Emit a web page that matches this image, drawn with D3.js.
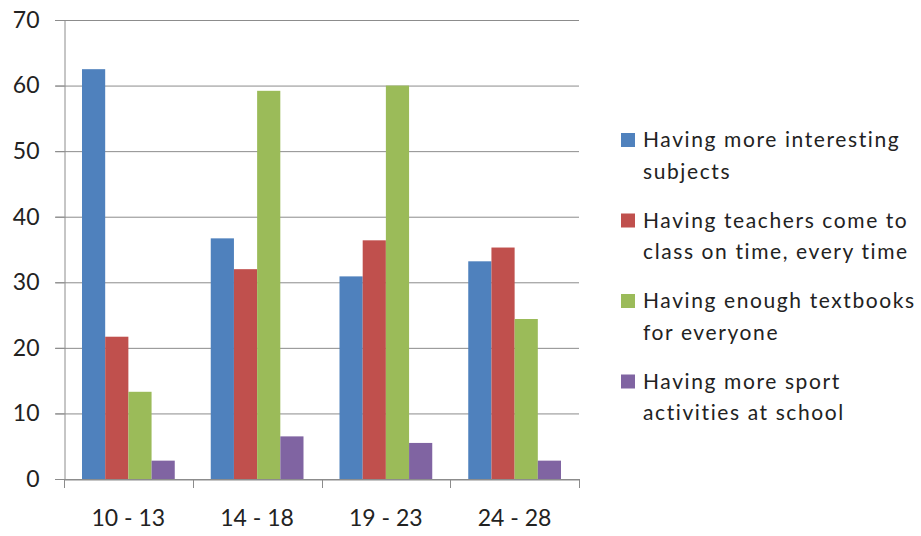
<!DOCTYPE html>
<html><head><meta charset="utf-8">
<script src="https://cdn.jsdelivr.net/npm/d3@7"></script>
<style>body{margin:0;background:#fff}svg{display:block}</style>
</head><body>
<svg id="chart" width="921" height="536"></svg>
<script>
const categories = ["10 - 13", "14 - 18", "19 - 23", "24 - 28"];
const seriesNames = [
  ["Having more interesting", "subjects"],
  ["Having teachers come to", "class on time, every time"],
  ["Having enough textbooks", "for everyone"],
  ["Having more sport", "activities at school"]
];
const seriesColors = ["#4F81BD", "#C0504D", "#9BBB59", "#8064A2"];
const interesting = [62.5, 36.7, 30.9, 33.2];
const teachers = [21.7, 32.0, 36.4, 35.3];
const textbooks = [13.3, 59.2, 60.0, 24.4];
const sport = [2.8, 6.5, 5.5, 2.8];
const yTicks = [0, 10, 20, 30, 40, 50, 60, 70];

(function () {
const series = [interesting, teachers, textbooks, sport];
const svg = d3.select("#chart");
const font = "Lato, 'Open Sans', sans-serif";
const pLeft = 64, pRight = 579, pTop = 20, pBottom = 479;

const x = d3.scaleBand().domain(categories).range([pLeft, pRight]).paddingInner(0).paddingOuter(0);
const inner = d3.scaleBand().domain(d3.range(series.length)).range([18, x.bandwidth() - 18]);
const y = d3.scaleLinear().domain([0, 70]).range([pBottom, pTop]);

// gridlines
svg.append("g").selectAll("line").data(yTicks).join("line")
  .attr("x1", pLeft - 9).attr("x2", pRight)
  .attr("y1", d => y(d) + 0.5).attr("y2", d => y(d) + 0.5)
  .attr("stroke", "#8c8c8c").attr("stroke-width", 1);

// y axis
const yAxis = svg.append("g").attr("transform", `translate(${pLeft + 0.5},0)`)
  .call(d3.axisLeft(y).tickValues(yTicks).tickSize(9).tickPadding(16).tickFormat(d3.format("d")));
yAxis.select(".domain").attr("stroke", "#8c8c8c");
yAxis.selectAll(".tick line").attr("stroke", "#8c8c8c");
yAxis.selectAll("text").attr("font-family", font).attr("font-size", 23).attr("fill", "#222");

// bars
const groups = svg.append("g").selectAll("g").data(series).join("g")
  .attr("fill", (d, i) => seriesColors[i]);
groups.each(function(vals, si) {
  d3.select(this).selectAll("rect").data(vals).join("rect")
    .attr("x", (d, ci) => x(categories[ci]) + inner(si))
    .attr("width", inner.bandwidth())
    .attr("y", d => y(d))
    .attr("height", d => y(0) - y(d));
});

// x axis
const xAxis = svg.append("g").attr("transform", `translate(0,${pBottom + 0.5})`)
  .call(d3.axisBottom(x).tickSize(0).tickPadding(30));
xAxis.select(".domain").attr("stroke", "#8c8c8c");
xAxis.selectAll("text").attr("font-family", font).attr("font-size", 23).attr("fill", "#222");
svg.append("g").selectAll("line").data(categories.concat(["end"])).join("line")
  .attr("x1", (d, i) => Math.round(pLeft + i * x.bandwidth()) + 0.5)
  .attr("x2", (d, i) => Math.round(pLeft + i * x.bandwidth()) + 0.5)
  .attr("y1", pBottom).attr("y2", pBottom + 9)
  .attr("stroke", "#8c8c8c");

// legend
const legend = svg.append("g").attr("transform", "translate(621,0)");
const li = legend.selectAll("g").data(seriesNames).join("g")
  .attr("transform", (d, i) => `translate(0,${133 + i * 80.5})`);
li.append("rect").attr("width", 14).attr("height", 14)
  .attr("fill", (d, i) => seriesColors[i]);
li.append("text").attr("x", 22).attr("font-family", font).attr("font-size", 21)
  .attr("letter-spacing", 1.6).attr("fill", "#222")
  .selectAll("tspan").data(d => d).join("tspan")
  .attr("x", 22).attr("y", (d, i) => 14 + i * 31.5).text(d => d);
})();
</script>
</body></html>
